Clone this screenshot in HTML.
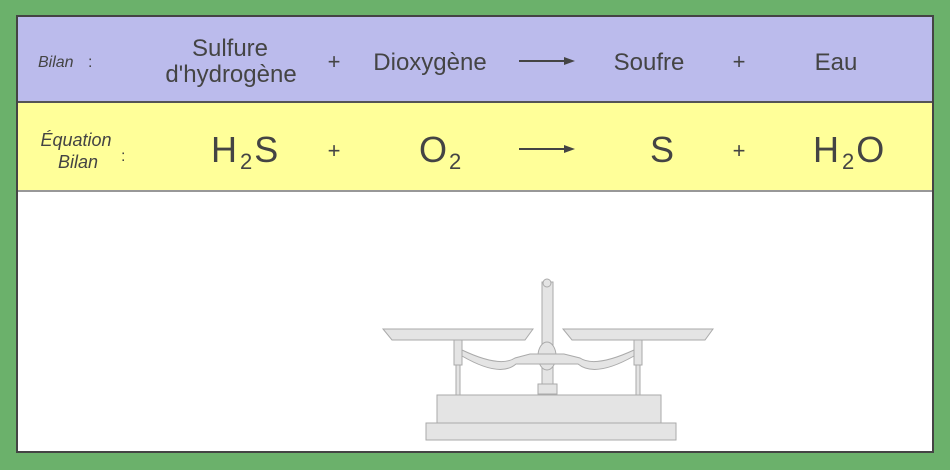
<!DOCTYPE html>
<html><head><meta charset="utf-8"><style>
html,body{margin:0;padding:0;background:#6bb16b;}
svg{display:block;}
text{font-family:"Liberation Sans",sans-serif;fill:#444;}
</style></head><body>
<svg width="950" height="470" viewBox="0 0 950 470" xmlns="http://www.w3.org/2000/svg">
<rect x="0" y="0" width="950" height="470" fill="#6bb16b"/>
<rect x="17" y="16" width="916" height="86" fill="#bbbbec"/>
<rect x="17" y="102" width="916" height="88" fill="#ffff99"/>
<rect x="17" y="190" width="916" height="262" fill="#ffffff"/>
<line x1="17" y1="102" x2="933" y2="102" stroke="#555" stroke-width="2"/>
<line x1="17" y1="191" x2="933" y2="191" stroke="#777" stroke-width="1.5"/>
<rect x="17" y="16" width="916" height="436" fill="none" stroke="#444" stroke-width="2"/>

<text x="38" y="67" font-size="16" font-style="italic">Bilan</text>
<text x="88" y="67" font-size="16">:</text>
<text x="230" y="56" font-size="24" text-anchor="middle">Sulfure</text>
<text x="231" y="82" font-size="24" text-anchor="middle">d'hydrogène</text>
<text x="334" y="69" font-size="22" text-anchor="middle">+</text>
<text x="430" y="70" font-size="24" text-anchor="middle">Dioxygène</text>
<text x="649" y="70" font-size="24" text-anchor="middle">Soufre</text>
<text x="739" y="69" font-size="22" text-anchor="middle">+</text>
<text x="836" y="70" font-size="24" text-anchor="middle">Eau</text>
<g stroke="#444" stroke-width="2"><line x1="519" y1="61" x2="570" y2="61"/><line x1="519" y1="149" x2="570" y2="149"/></g>
<polygon points="575,61 564,57 564,65" fill="#444"/>
<polygon points="575,149 564,145 564,153" fill="#444"/>

<text x="76" y="146" font-size="18" font-style="italic" text-anchor="middle">Équation</text>
<text x="78" y="168" font-size="18" font-style="italic" text-anchor="middle">Bilan</text>
<text x="121" y="161" font-size="16">:</text>
<text x="211" y="162" font-size="36">H<tspan font-size="22" dx="3" dy="7">2</tspan><tspan dx="2" dy="-7">S</tspan></text>
<text x="334" y="158" font-size="22" text-anchor="middle">+</text>
<text x="419" y="162" font-size="36">O<tspan font-size="22" dx="2" dy="7">2</tspan></text>
<text x="662" y="162" font-size="36" text-anchor="middle">S</text>
<text x="739" y="158" font-size="22" text-anchor="middle">+</text>
<text x="813" y="162" font-size="36">H<tspan font-size="22" dx="3" dy="7">2</tspan><tspan dx="2" dy="-7">O</tspan></text>

<g fill="#e4e4e4" stroke="#aaa" stroke-width="1">
<rect x="426" y="423" width="250" height="17"/>
<rect x="437" y="395" width="224" height="28"/>
<path d="M383 329 L533 329 L525 340 L392 340 Z"/>
<path d="M563 329 L713 329 L705 340 L572 340 Z"/>
<rect x="542" y="282" width="11" height="110"/>
<circle cx="547" cy="283" r="4"/>
<ellipse cx="547" cy="356" rx="9" ry="14"/>
<path d="M462 350 Q500 368 515 358 L530 354 L564 354 L580 358 Q595 368 634 350 L634 356 Q595 378 578 364 L516 364 Q500 378 462 356 Z"/>
<rect x="454" y="340" width="8" height="25"/>
<rect x="634" y="340" width="8" height="25"/>
<rect x="456" y="365" width="4" height="30"/>
<rect x="636" y="365" width="4" height="30"/>
<rect x="538" y="384" width="19" height="10"/>
</g>
</svg>
</body></html>
